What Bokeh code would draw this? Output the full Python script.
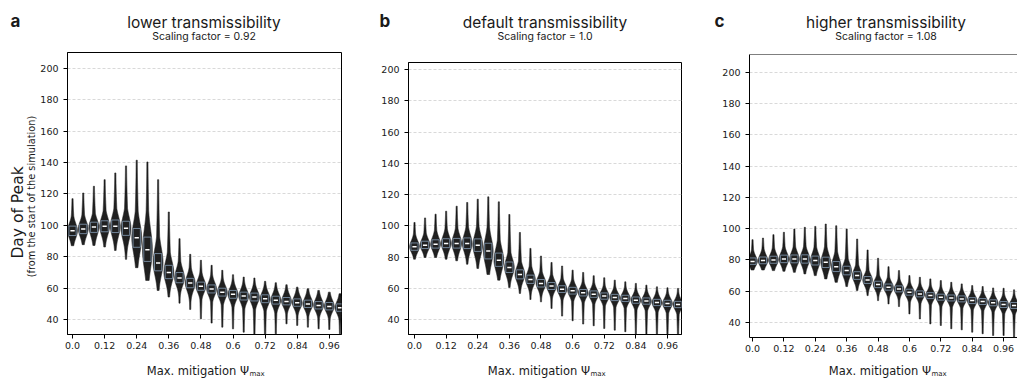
import numpy as np
from bokeh.plotting import figure
from bokeh.layouts import row, column
from bokeh.models import FixedTicker, Label, Span, Range1d, ColumnDataSource
from bokeh.embed import file_html
from bokeh.resources import INLINE

# ---------------- data ----------------
mitigation = [0.0, 0.04, 0.08, 0.12, 0.16, 0.2, 0.24, 0.28, 0.32, 0.36, 0.4, 0.44, 0.48,
              0.52, 0.56, 0.6, 0.64, 0.68, 0.72, 0.76, 0.8, 0.84, 0.88, 0.92, 0.96, 1.0]
x_tick_labels = ["0.0", "0.12", "0.24", "0.36", "0.48", "0.6", "0.72", "0.84", "0.96"]
y_ticks = [40, 60, 80, 100, 120, 140, 160, 180, 200]

letters = ["a", "b", "c"]
titles = ["lower transmissibility", "default transmissibility", "higher transmissibility"]
subtitles = ["Scaling factor = 0.92", "Scaling factor = 1.0", "Scaling factor = 1.08"]

# panel a (scaling factor 0.92)
a_med = [96.5, 97.7, 99.0, 99.4, 99.4, 98.1, 92.1, 84.5, 76.0, 70.0, 66.4, 63.2, 61.1,
         59.4, 57.4, 56.0, 54.9, 54.3, 53.2, 52.3, 51.5, 50.6, 49.8, 48.9, 48.3, 47.4]
a_q3 = [99.5, 100.7, 102.0, 102.9, 103.4, 102.6, 98.0, 92.5, 82.0, 74.5, 69.9, 66.2, 63.8,
        62.0, 59.9, 58.5, 57.4, 56.8, 55.7, 54.8, 54.0, 53.1, 52.3, 51.4, 50.8, 49.9]
a_q1 = [93.5, 94.7, 95.5, 95.9, 95.4, 93.6, 86.0, 77.0, 71.0, 66.0, 63.4, 60.2, 58.6,
        56.9, 54.9, 53.5, 52.4, 51.8, 50.7, 49.8, 49.3, 48.4, 47.6, 46.7, 46.1, 45.2]
a_hi = [117.0, 120.6, 124.9, 129.1, 133.4, 137.9, 141.5, 140.4, 129.1, 108.5, 91.5, 81.5, 77.7,
        74.5, 71.3, 68.5, 67.0, 66.4, 64.3, 63.4, 62.1, 60.6, 59.6, 58.5, 57.4, 56.4]
a_lo = [87.0, 87.7, 87.2, 86.2, 84.0, 78.3, 73.0, 64.9, 58.5, 54.3, 50.4, 46.4, 40.4,
        37.7, 35.1, 34.0, 31.9, 28.0, 25.0, 30.8, 37.2, 36.2, 35.1, 34.0, 33.6, 30.8]

# panel b (scaling factor 1.0)
b_med = [86.5, 87.6, 88.2, 88.7, 88.7, 88.7, 87.6, 83.8, 78.0, 73.3, 68.8, 65.6, 63.1,
         61.4, 59.4, 58.4, 57.1, 56.2, 55.0, 54.1, 53.5, 52.4, 51.8, 50.9, 50.3, 49.6]
b_q3 = [89.0, 90.1, 91.0, 91.7, 91.9, 92.2, 91.6, 88.8, 82.5, 76.8, 71.8, 68.4, 65.6,
        63.7, 61.6, 60.6, 59.2, 58.3, 57.0, 56.1, 55.5, 54.4, 53.8, 52.9, 52.3, 51.6]
b_q1 = [84.3, 85.4, 85.7, 86.0, 85.7, 85.4, 83.6, 78.8, 74.0, 70.1, 66.0, 63.1, 60.8,
        59.2, 57.3, 56.3, 55.1, 54.2, 53.0, 52.1, 51.5, 50.4, 49.8, 48.9, 48.3, 47.6]
b_hi = [102.1, 105.0, 107.4, 109.3, 112.5, 114.9, 117.0, 118.5, 115.3, 107.2, 95.7, 85.5, 80.6,
        76.5, 74.2, 71.6, 70.1, 68.0, 66.7, 65.2, 64.1, 63.1, 62.0, 60.9, 60.3, 59.9]
b_lo = [78.6, 79.7, 79.7, 78.6, 77.6, 75.4, 72.7, 68.8, 65.2, 60.5, 56.7, 52.8, 51.3,
        47.1, 42.2, 39.2, 37.1, 36.0, 34.3, 33.2, 32.2, 30.0, 29.0, 28.0, 28.0, 28.0]

# panel c (scaling factor 1.08)
c_med = [79.1, 79.6, 80.0, 80.6, 80.6, 80.6, 79.6, 78.5, 75.7, 73.2, 70.0, 67.2, 64.3,
         62.6, 61.5, 59.4, 58.3, 57.2, 56.2, 55.7, 55.1, 54.0, 53.4, 52.6, 51.5, 50.9]
c_q3 = [81.3, 81.9, 82.4, 83.1, 83.2, 83.3, 82.5, 81.8, 79.0, 76.0, 72.5, 69.4, 66.4,
        64.6, 63.4, 61.3, 60.2, 59.1, 58.1, 57.6, 57.0, 55.9, 55.3, 54.5, 53.4, 52.8]
c_q1 = [77.2, 77.6, 77.9, 78.3, 78.2, 78.0, 76.8, 75.2, 72.6, 70.5, 67.6, 65.0, 62.3,
        60.7, 59.6, 57.5, 56.4, 55.3, 54.3, 53.8, 53.2, 52.1, 51.5, 50.7, 49.6, 49.0]
c_hi = [93.0, 94.0, 96.2, 97.7, 99.8, 100.9, 101.5, 103.0, 101.9, 99.8, 93.4, 86.4, 81.1,
        75.7, 73.2, 70.0, 68.9, 67.9, 66.8, 65.7, 64.7, 63.6, 63.0, 62.1, 61.9, 60.9]
c_lo = [73.6, 73.6, 73.2, 72.8, 72.1, 71.1, 70.0, 67.9, 65.7, 63.0, 60.4, 57.2, 54.0,
        51.9, 50.2, 45.5, 42.3, 39.1, 38.1, 36.0, 35.3, 33.8, 32.8, 31.7, 31.7, 30.6]

panels_data = [
    (a_lo, a_q1, a_med, a_q3, a_hi),
    (b_lo, b_q1, b_med, b_q3, b_hi),
    (c_lo, c_q1, c_med, c_q3, c_hi),
]

# ---------------- layout (page px, the Bokeh page has no body margin) ----------------
TOTAL_W = 1017
HEAD_H = 50        # page y 0..50
MAIN_H = 310       # page y 50..360
FOOT_H = 20        # page y 360..380
YLAB_W = 37        # page x 0..37
MAIN_TOP = HEAD_H

geoms = [
    dict(w=324, bl=30, br=20, bt=2, bb=26, xr=(-0.47, 25.14), yr=(30.4, 210.2),
         outline=True, letter_x=10),
    dict(w=340, bl=47, br=20, bt=12, bb=26, xr=(-0.57, 25.33), yr=(30.4, 204.5),
         outline=True, letter_x=379),
    dict(w=316, bl=48, br=0, bt=4, bb=23, xr=(-0.29, 25.33), yr=(30.4, 211.5),
         outline=False, letter_x=714),
]

VIOLIN = "#202020"
BOX_LINE = "#7b90a6"
TXT = "#1a1a1a"


def violin_shape(i, lo, q1, med, q3, hi, w=0.46, n=180):
    ys = np.linspace(lo, hi, n)
    ys = np.unique(np.concatenate([ys, [q1, med, q3]]))
    s_up = max(q3 - med, 0.8) / 0.674
    s_dn = max(med - q1, 0.8) / 0.674
    z = np.where(ys >= med, (ys - med) / s_up, (med - ys) / s_dn)
    body = w * (0.75 * np.exp(-0.5 * z ** 2) + 0.25 * np.exp(-0.5 * (z / 2.4) ** 2))
    up = np.clip((hi - ys) / max(hi - med, 1e-6), 0, 1)
    dn = np.clip((ys - lo) / max(med - lo, 1e-6), 0, 1)
    tail = np.where(ys >= med, 0.055 + 0.16 * up ** 1.6, 0.055 + 0.10 * dn ** 1.6)
    hw = np.maximum(body, tail)
    xs = np.concatenate([i - hw, (i + hw)[::-1]])
    yy = np.concatenate([ys, ys[::-1]])
    return xs.tolist(), yy.tolist()


def text_canvas(width, height, x0, y0):
    """A bare figure whose data coordinates equal page pixels."""
    f = figure(width=width, height=height, output_backend="svg", toolbar_location=None,
               x_range=Range1d(x0, x0 + width), y_range=Range1d(y0 + height, y0),
               x_axis_type=None, y_axis_type=None, title=None,
               min_border=0, background_fill_color="white", border_fill_color="white")
    f.grid.visible = False
    f.outline_line_color = None
    f.frame_align = False
    return f


def add_text(f, text, X, Y, size, font="Inter", style="normal", align="center",
             baseline="middle", angle=0.0):
    f.add_layout(Label(x=X, y=Y, text=text, text_font=font, text_font_size=size,
                       text_font_style=style, text_align=align, text_baseline=baseline,
                       angle=angle, text_color=TXT))


header = text_canvas(TOTAL_W, HEAD_H, 0, 0)
footer = text_canvas(TOTAL_W, FOOT_H, 0, HEAD_H + MAIN_H)
ylab = text_canvas(YLAB_W, MAIN_H, 0, MAIN_TOP)

add_text(ylab, "Day of Peak", 17, 212, "15.5px", font="DejaVu Sans", angle=np.pi / 2)
add_text(ylab, "(from the start of the simulation)", 31, 196, "9.8px", font="DejaVu Sans",
         angle=np.pi / 2)

figs = []
left = YLAB_W
tick_pos = [mitigation.index(float(t)) for t in x_tick_labels]
for k, (g, data) in enumerate(zip(geoms, panels_data)):
    lo, q1, med, q3, hi = data
    p = figure(width=g["w"], height=MAIN_H, output_backend="svg", toolbar_location=None,
               x_range=Range1d(*g["xr"]), y_range=Range1d(*g["yr"]), title=None,
               min_border_left=g["bl"], min_border_right=g["br"],
               min_border_top=g["bt"], min_border_bottom=g["bb"],
               background_fill_color="white", border_fill_color="white")
    p.frame_align = False
    frame_left = left + g["bl"]
    fcx = frame_left + 273 / 2.0

    xs_all, ys_all = [], []
    for i in range(len(mitigation)):
        xs, ys = violin_shape(i, lo[i], q1[i], med[i], q3[i], hi[i])
        xs_all.append(xs)
        ys_all.append(ys)
    p.patches(xs=xs_all, ys=ys_all, fill_color=VIOLIN, line_color=VIOLIN, line_width=0.6)

    idx = list(range(len(mitigation)))
    src = ColumnDataSource(dict(
        left=[i - 0.34 for i in idx], right=[i + 0.34 for i in idx],
        q1=q1, q3=q3, med=med,
        m0=[i - 0.2 for i in idx], m1=[i + 0.2 for i in idx]))
    p.quad(left="left", right="right", bottom="q1", top="q3", source=src,
           fill_color=VIOLIN, line_color=BOX_LINE, line_width=0.9)
    p.segment(x0="m0", x1="m1", y0="med", y1="med", source=src,
              line_color="white", line_width=1.5)

    p.xaxis.ticker = FixedTicker(ticks=tick_pos)
    p.xaxis.major_label_overrides = {tp: lab for tp, lab in zip(tick_pos, x_tick_labels)}
    p.yaxis.ticker = FixedTicker(ticks=y_ticks)
    for ax in (p.xaxis, p.yaxis):
        ax.axis_line_color = "black"
        ax.axis_line_width = 1
        ax.major_tick_line_color = "black"
        ax.major_tick_out = 4
        ax.major_tick_in = 0
        ax.minor_tick_line_color = None
        ax.major_label_text_font = "DejaVu Sans"
        ax.major_label_text_font_size = "9.5px"
        ax.major_label_text_color = TXT
    p.xaxis.major_label_standoff = 3
    p.yaxis.major_label_standoff = 5
    p.xgrid.visible = False
    p.ygrid.grid_line_color = "#cfcfcf"
    p.ygrid.grid_line_dash = "3 2"
    p.ygrid.grid_line_width = 0.8

    if g["outline"]:
        p.outline_line_color = "black"
        p.outline_line_width = 1
    else:
        p.outline_line_color = None
        p.add_layout(Span(location=g["yr"][1], dimension="width",
                          line_color="black", line_width=1))

    # texts outside the frame go to the header / footer canvases
    add_text(header, letters[k], g["letter_x"], 20, "17px", style="bold", align="left")
    add_text(header, titles[k], fcx, 22, "15.5px")
    add_text(header, subtitles[k], fcx, 36, "10.5px")
    add_text(footer, "Max. mitigation \u03a8", fcx + 45, 370, "11.5px", font="DejaVu Sans",
             align="right", baseline="middle")
    add_text(footer, "max", fcx + 45.5, 373, "7px", font="DejaVu Sans", align="left",
             baseline="middle")

    figs.append(p)
    left += g["w"]

layout = column(header, row(ylab, *figs, spacing=0), footer, spacing=0)
open("out.html", "w").write(file_html(layout, INLINE))
